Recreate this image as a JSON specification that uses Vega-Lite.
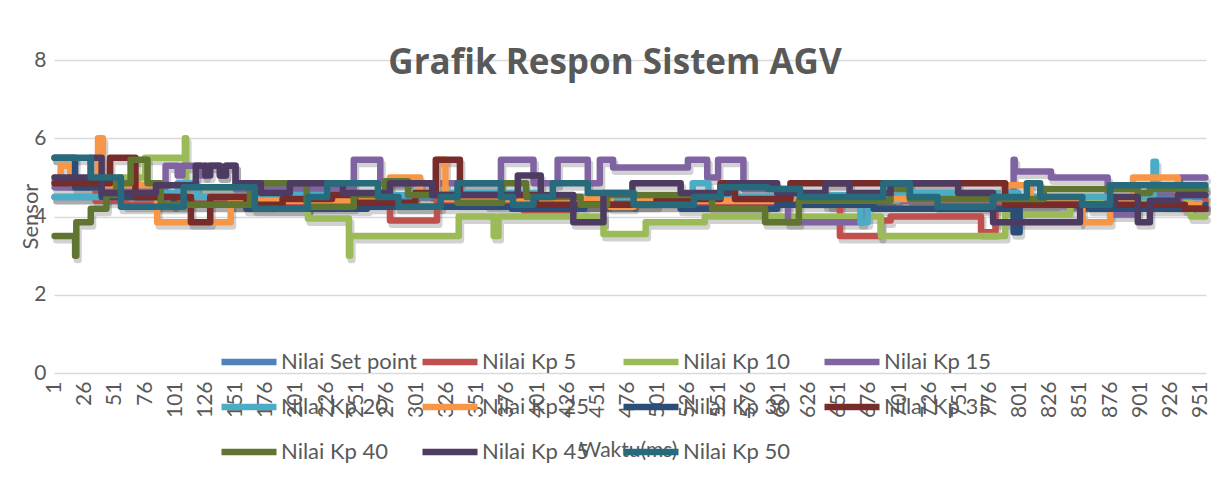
{
"$schema": "https://vega.github.io/schema/vega-lite/v6.json",
"width": 1152, "height": 313,
"autosize": {"type": "none"},
"padding": {"left": 54, "top": 60, "right": 7, "bottom": 104},
"background": "white",
"config": {"view": {"stroke": null}, "font": "Lato"},
"title": {"text": "Grafik Respon Sistem AGV", "font": "Open Sans", "fontSize": 35, "fontWeight": "bold", "color": "#595959", "anchor": "middle", "baseline": "alphabetic", "offset": -60, "dx": -15},
"datasets": {"d": [
{"s":"Nilai Set point","t":1,"v":4.5},{"s":"Nilai Set point","t":955,"v":4.5},
{"s":"Nilai Kp 5","t":1,"v":4.85},{"s":"Nilai Kp 5","t":35,"v":4.4},{"s":"Nilai Kp 5","t":60,"v":4.3},{"s":"Nilai Kp 5","t":100,"v":4.45},{"s":"Nilai Kp 5","t":150,"v":4.3},{"s":"Nilai Kp 5","t":182,"v":4.45},{"s":"Nilai Kp 5","t":192,"v":4.3},{"s":"Nilai Kp 5","t":230,"v":4.4},{"s":"Nilai Kp 5","t":279,"v":3.9},{"s":"Nilai Kp 5","t":318,"v":4.4},{"s":"Nilai Kp 5","t":360,"v":4.3},{"s":"Nilai Kp 5","t":390,"v":4.15},{"s":"Nilai Kp 5","t":429,"v":4.3},{"s":"Nilai Kp 5","t":480,"v":4.4},{"s":"Nilai Kp 5","t":530,"v":4.3},{"s":"Nilai Kp 5","t":600,"v":4.45},{"s":"Nilai Kp 5","t":640,"v":4.3},{"s":"Nilai Kp 5","t":652,"v":3.5},{"s":"Nilai Kp 5","t":686,"v":3.9},{"s":"Nilai Kp 5","t":694,"v":4.0},{"s":"Nilai Kp 5","t":769,"v":3.6},{"s":"Nilai Kp 5","t":781,"v":4.3},{"s":"Nilai Kp 5","t":830,"v":4.35},{"s":"Nilai Kp 5","t":880,"v":4.4},{"s":"Nilai Kp 5","t":920,"v":4.3},{"s":"Nilai Kp 5","t":955,"v":4.4},
{"s":"Nilai Kp 10","t":1,"v":4.9},{"s":"Nilai Kp 10","t":54,"v":5.0},{"s":"Nilai Kp 10","t":76,"v":5.5},{"s":"Nilai Kp 10","t":109,"v":6.0},{"s":"Nilai Kp 10","t":110,"v":4.75},{"s":"Nilai Kp 10","t":211,"v":3.95},{"s":"Nilai Kp 10","t":245,"v":3.0},{"s":"Nilai Kp 10","t":246,"v":3.5},{"s":"Nilai Kp 10","t":336,"v":4.0},{"s":"Nilai Kp 10","t":365,"v":3.5},{"s":"Nilai Kp 10","t":369,"v":4.0},{"s":"Nilai Kp 10","t":456,"v":3.55},{"s":"Nilai Kp 10","t":491,"v":3.85},{"s":"Nilai Kp 10","t":540,"v":4.0},{"s":"Nilai Kp 10","t":686,"v":3.5},{"s":"Nilai Kp 10","t":789,"v":4.05},{"s":"Nilai Kp 10","t":843,"v":4.35},{"s":"Nilai Kp 10","t":943,"v":4.0},{"s":"Nilai Kp 10","t":955,"v":4.0},
{"s":"Nilai Kp 15","t":1,"v":4.75},{"s":"Nilai Kp 15","t":93,"v":5.3},{"s":"Nilai Kp 15","t":103,"v":5.05},{"s":"Nilai Kp 15","t":107,"v":5.3},{"s":"Nilai Kp 15","t":122,"v":5.05},{"s":"Nilai Kp 15","t":126,"v":5.3},{"s":"Nilai Kp 15","t":138,"v":5.05},{"s":"Nilai Kp 15","t":143,"v":5.3},{"s":"Nilai Kp 15","t":151,"v":4.7},{"s":"Nilai Kp 15","t":249,"v":5.45},{"s":"Nilai Kp 15","t":271,"v":4.85},{"s":"Nilai Kp 15","t":371,"v":5.45},{"s":"Nilai Kp 15","t":398,"v":4.85},{"s":"Nilai Kp 15","t":418,"v":5.45},{"s":"Nilai Kp 15","t":443,"v":4.85},{"s":"Nilai Kp 15","t":453,"v":5.45},{"s":"Nilai Kp 15","t":464,"v":5.25},{"s":"Nilai Kp 15","t":526,"v":5.45},{"s":"Nilai Kp 15","t":542,"v":5.0},{"s":"Nilai Kp 15","t":551,"v":5.45},{"s":"Nilai Kp 15","t":572,"v":4.7},{"s":"Nilai Kp 15","t":609,"v":3.85},{"s":"Nilai Kp 15","t":671,"v":4.4},{"s":"Nilai Kp 15","t":796,"v":5.45},{"s":"Nilai Kp 15","t":797,"v":5.15},{"s":"Nilai Kp 15","t":827,"v":5.0},{"s":"Nilai Kp 15","t":874,"v":4.3},{"s":"Nilai Kp 15","t":876,"v":4.05},{"s":"Nilai Kp 15","t":897,"v":4.6},{"s":"Nilai Kp 15","t":932,"v":4.45},{"s":"Nilai Kp 15","t":934,"v":5.0},{"s":"Nilai Kp 15","t":955,"v":5.0},
{"s":"Nilai Kp 20","t":1,"v":4.5},{"s":"Nilai Kp 20","t":47,"v":4.6},{"s":"Nilai Kp 20","t":103,"v":4.85},{"s":"Nilai Kp 20","t":119,"v":4.5},{"s":"Nilai Kp 20","t":170,"v":4.55},{"s":"Nilai Kp 20","t":300,"v":4.6},{"s":"Nilai Kp 20","t":400,"v":4.5},{"s":"Nilai Kp 20","t":530,"v":4.85},{"s":"Nilai Kp 20","t":543,"v":4.5},{"s":"Nilai Kp 20","t":600,"v":4.55},{"s":"Nilai Kp 20","t":669,"v":3.85},{"s":"Nilai Kp 20","t":675,"v":4.4},{"s":"Nilai Kp 20","t":700,"v":4.6},{"s":"Nilai Kp 20","t":800,"v":4.5},{"s":"Nilai Kp 20","t":912,"v":5.4},{"s":"Nilai Kp 20","t":914,"v":4.7},{"s":"Nilai Kp 20","t":955,"v":4.7},
{"s":"Nilai Kp 25","t":1,"v":5.0},{"s":"Nilai Kp 25","t":6,"v":5.3},{"s":"Nilai Kp 25","t":14,"v":4.85},{"s":"Nilai Kp 25","t":37,"v":6.0},{"s":"Nilai Kp 25","t":41,"v":4.8},{"s":"Nilai Kp 25","t":86,"v":3.85},{"s":"Nilai Kp 25","t":147,"v":4.4},{"s":"Nilai Kp 25","t":279,"v":5.0},{"s":"Nilai Kp 25","t":304,"v":4.6},{"s":"Nilai Kp 25","t":318,"v":5.45},{"s":"Nilai Kp 25","t":325,"v":4.45},{"s":"Nilai Kp 25","t":462,"v":4.25},{"s":"Nilai Kp 25","t":481,"v":4.4},{"s":"Nilai Kp 25","t":644,"v":4.3},{"s":"Nilai Kp 25","t":680,"v":4.45},{"s":"Nilai Kp 25","t":788,"v":4.8},{"s":"Nilai Kp 25","t":810,"v":4.4},{"s":"Nilai Kp 25","t":853,"v":3.85},{"s":"Nilai Kp 25","t":876,"v":4.4},{"s":"Nilai Kp 25","t":895,"v":5.0},{"s":"Nilai Kp 25","t":932,"v":4.3},{"s":"Nilai Kp 25","t":955,"v":4.3},
{"s":"Nilai Kp 30","t":1,"v":5.5},{"s":"Nilai Kp 30","t":18,"v":4.75},{"s":"Nilai Kp 30","t":40,"v":4.5},{"s":"Nilai Kp 30","t":100,"v":4.3},{"s":"Nilai Kp 30","t":160,"v":4.2},{"s":"Nilai Kp 30","t":260,"v":4.25},{"s":"Nilai Kp 30","t":380,"v":4.2},{"s":"Nilai Kp 30","t":440,"v":4.3},{"s":"Nilai Kp 30","t":520,"v":4.2},{"s":"Nilai Kp 30","t":600,"v":4.3},{"s":"Nilai Kp 30","t":680,"v":4.2},{"s":"Nilai Kp 30","t":796,"v":3.6},{"s":"Nilai Kp 30","t":801,"v":4.3},{"s":"Nilai Kp 30","t":860,"v":4.2},{"s":"Nilai Kp 30","t":955,"v":4.3},
{"s":"Nilai Kp 35","t":1,"v":4.85},{"s":"Nilai Kp 35","t":47,"v":5.5},{"s":"Nilai Kp 35","t":68,"v":4.5},{"s":"Nilai Kp 35","t":114,"v":3.85},{"s":"Nilai Kp 35","t":130,"v":4.5},{"s":"Nilai Kp 35","t":160,"v":4.3},{"s":"Nilai Kp 35","t":190,"v":4.45},{"s":"Nilai Kp 35","t":231,"v":4.55},{"s":"Nilai Kp 35","t":250,"v":4.35},{"s":"Nilai Kp 35","t":300,"v":4.6},{"s":"Nilai Kp 35","t":317,"v":5.45},{"s":"Nilai Kp 35","t":337,"v":4.55},{"s":"Nilai Kp 35","t":400,"v":4.3},{"s":"Nilai Kp 35","t":500,"v":4.45},{"s":"Nilai Kp 35","t":553,"v":4.85},{"s":"Nilai Kp 35","t":565,"v":4.45},{"s":"Nilai Kp 35","t":611,"v":4.85},{"s":"Nilai Kp 35","t":789,"v":4.3},{"s":"Nilai Kp 35","t":853,"v":4.3},{"s":"Nilai Kp 35","t":938,"v":4.2},{"s":"Nilai Kp 35","t":955,"v":4.2},
{"s":"Nilai Kp 40","t":1,"v":3.5},{"s":"Nilai Kp 40","t":18,"v":3.0},{"s":"Nilai Kp 40","t":19,"v":3.85},{"s":"Nilai Kp 40","t":31,"v":4.2},{"s":"Nilai Kp 40","t":44,"v":4.55},{"s":"Nilai Kp 40","t":52,"v":4.85},{"s":"Nilai Kp 40","t":64,"v":5.45},{"s":"Nilai Kp 40","t":78,"v":4.85},{"s":"Nilai Kp 40","t":89,"v":4.3},{"s":"Nilai Kp 40","t":163,"v":4.85},{"s":"Nilai Kp 40","t":210,"v":4.25},{"s":"Nilai Kp 40","t":249,"v":4.55},{"s":"Nilai Kp 40","t":275,"v":4.9},{"s":"Nilai Kp 40","t":294,"v":4.55},{"s":"Nilai Kp 40","t":335,"v":4.35},{"s":"Nilai Kp 40","t":372,"v":4.85},{"s":"Nilai Kp 40","t":392,"v":4.5},{"s":"Nilai Kp 40","t":437,"v":4.3},{"s":"Nilai Kp 40","t":459,"v":4.55},{"s":"Nilai Kp 40","t":546,"v":4.2},{"s":"Nilai Kp 40","t":590,"v":3.85},{"s":"Nilai Kp 40","t":618,"v":4.4},{"s":"Nilai Kp 40","t":694,"v":4.7},{"s":"Nilai Kp 40","t":710,"v":4.45},{"s":"Nilai Kp 40","t":821,"v":4.7},{"s":"Nilai Kp 40","t":899,"v":4.6},{"s":"Nilai Kp 40","t":909,"v":4.7},{"s":"Nilai Kp 40","t":955,"v":4.7},
{"s":"Nilai Kp 45","t":1,"v":5.0},{"s":"Nilai Kp 45","t":31,"v":5.5},{"s":"Nilai Kp 45","t":40,"v":4.6},{"s":"Nilai Kp 45","t":85,"v":4.8},{"s":"Nilai Kp 45","t":118,"v":5.3},{"s":"Nilai Kp 45","t":126,"v":5.05},{"s":"Nilai Kp 45","t":130,"v":5.3},{"s":"Nilai Kp 45","t":138,"v":5.05},{"s":"Nilai Kp 45","t":143,"v":5.3},{"s":"Nilai Kp 45","t":151,"v":4.85},{"s":"Nilai Kp 45","t":172,"v":4.6},{"s":"Nilai Kp 45","t":196,"v":4.85},{"s":"Nilai Kp 45","t":240,"v":4.6},{"s":"Nilai Kp 45","t":279,"v":4.85},{"s":"Nilai Kp 45","t":314,"v":4.55},{"s":"Nilai Kp 45","t":385,"v":5.05},{"s":"Nilai Kp 45","t":404,"v":4.55},{"s":"Nilai Kp 45","t":431,"v":3.85},{"s":"Nilai Kp 45","t":456,"v":4.6},{"s":"Nilai Kp 45","t":480,"v":4.85},{"s":"Nilai Kp 45","t":520,"v":4.6},{"s":"Nilai Kp 45","t":560,"v":4.85},{"s":"Nilai Kp 45","t":600,"v":4.6},{"s":"Nilai Kp 45","t":640,"v":4.85},{"s":"Nilai Kp 45","t":660,"v":4.6},{"s":"Nilai Kp 45","t":694,"v":4.85},{"s":"Nilai Kp 45","t":750,"v":4.6},{"s":"Nilai Kp 45","t":779,"v":3.85},{"s":"Nilai Kp 45","t":851,"v":4.3},{"s":"Nilai Kp 45","t":880,"v":4.5},{"s":"Nilai Kp 45","t":899,"v":3.85},{"s":"Nilai Kp 45","t":909,"v":4.4},{"s":"Nilai Kp 45","t":932,"v":4.55},{"s":"Nilai Kp 45","t":955,"v":4.55},
{"s":"Nilai Kp 50","t":1,"v":5.5},{"s":"Nilai Kp 50","t":31,"v":5.0},{"s":"Nilai Kp 50","t":56,"v":4.25},{"s":"Nilai Kp 50","t":108,"v":4.75},{"s":"Nilai Kp 50","t":167,"v":4.2},{"s":"Nilai Kp 50","t":211,"v":4.5},{"s":"Nilai Kp 50","t":227,"v":4.85},{"s":"Nilai Kp 50","t":269,"v":4.5},{"s":"Nilai Kp 50","t":286,"v":4.25},{"s":"Nilai Kp 50","t":321,"v":4.5},{"s":"Nilai Kp 50","t":335,"v":4.85},{"s":"Nilai Kp 50","t":371,"v":4.5},{"s":"Nilai Kp 50","t":381,"v":4.3},{"s":"Nilai Kp 50","t":398,"v":4.5},{"s":"Nilai Kp 50","t":414,"v":4.85},{"s":"Nilai Kp 50","t":443,"v":4.6},{"s":"Nilai Kp 50","t":481,"v":4.3},{"s":"Nilai Kp 50","t":531,"v":4.5},{"s":"Nilai Kp 50","t":553,"v":4.75},{"s":"Nilai Kp 50","t":592,"v":4.7},{"s":"Nilai Kp 50","t":619,"v":4.5},{"s":"Nilai Kp 50","t":688,"v":4.85},{"s":"Nilai Kp 50","t":710,"v":4.5},{"s":"Nilai Kp 50","t":733,"v":4.25},{"s":"Nilai Kp 50","t":779,"v":4.5},{"s":"Nilai Kp 50","t":807,"v":4.85},{"s":"Nilai Kp 50","t":818,"v":4.5},{"s":"Nilai Kp 50","t":853,"v":4.3},{"s":"Nilai Kp 50","t":876,"v":4.8},{"s":"Nilai Kp 50","t":955,"v":4.8}
]},
"data": {"name": "d"},
"encoding": {
  "x": {"field": "t", "type": "quantitative", "scale": {"domain": [0.5, 955.5], "nice": false, "zero": false},
    "axis": {"values": [1,26,51,76,101,126,151,176,201,226,251,276,301,326,351,376,401,426,451,476,501,526,551,576,601,626,651,676,701,726,751,776,801,826,851,876,901,926,951],
      "labelAngle": -90, "labelFontSize": 21, "labelColor": "#595959", "labelPadding": 8, "labelOverlap": false, "labelFlush": false,
      "domain": false, "ticks": false, "grid": false,
      "title": "Waktu(ms)", "titleFontSize": 21, "titleFontWeight": "normal", "titleColor": "#595959", "titleX": 574, "titleY": 77, "titleBaseline": "middle", "titleAlign": "center"}},
  "y": {"field": "v", "type": "quantitative", "scale": {"domain": [0, 8], "nice": false},
    "axis": {"values": [0,2,4,6,8], "labelFontSize": 21, "labelColor": "#595959", "labelPadding": 8, "domain": false, "ticks": false,
      "gridColor": "#D9D9D9", "gridWidth": 1.5,
      "title": "Sensor", "titleFontSize": 22, "titleFontWeight": "normal", "titleColor": "#595959", "titleX": -24, "titleY": 156, "titleAngle": -90, "titleBaseline": "middle", "titleAlign": "center"}}
},
"layer": [
  {"mark": {"type": "line", "interpolate": "step-after", "color": "#000000", "opacity": 0.18, "strokeWidth": 7, "xOffset": 2, "yOffset": 4, "strokeCap": "round", "strokeJoin": "round"},
   "encoding": {"detail": {"field": "s"}}},
  {"mark": {"type": "line", "interpolate": "step-after", "strokeWidth": 6.5, "strokeCap": "round", "strokeJoin": "round"},
   "encoding": {"color": {"field": "s", "type": "nominal",
     "scale": {"domain": ["Nilai Set point","Nilai Kp 5","Nilai Kp 10","Nilai Kp 15","Nilai Kp 20","Nilai Kp 25","Nilai Kp 30","Nilai Kp 35","Nilai Kp 40","Nilai Kp 45","Nilai Kp 50"],
       "range": ["#4F81BD","#C0504D","#9BBB59","#8064A2","#4BACC6","#F79646","#2C4D75","#772C2A","#5F7530","#4D3B62","#276A7C"]},
     "legend": {"orient": "none", "legendX": 164, "legendY": 271, "columns": 4, "direction": "horizontal", "title": null,
       "symbolType": "stroke", "symbolSize": 3025, "symbolStrokeWidth": 6.5, "labelFontSize": 22, "labelColor": "#595959",
       "labelOffset": 1, "columnPadding": -8, "rowPadding": 1, "gridAlign": "all", "labelLimit": 300}}}}
]
}
